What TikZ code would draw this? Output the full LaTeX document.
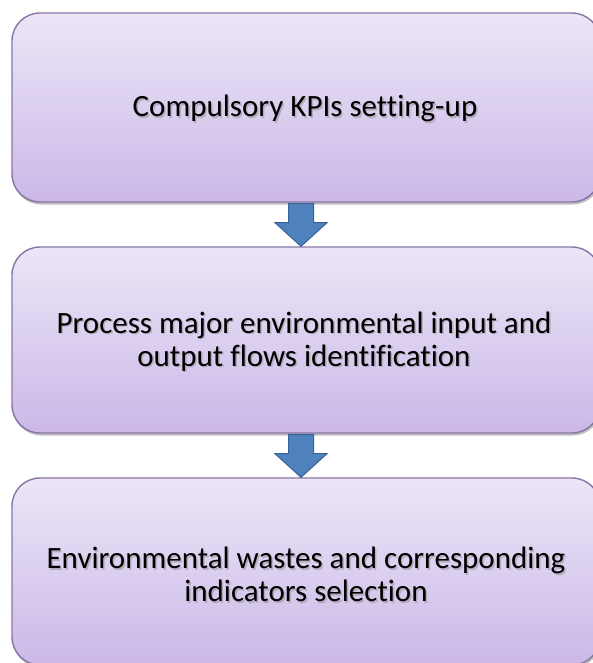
\documentclass[tikz,border=0pt]{standalone}
\usepackage{fontspec}
\setmainfont[Ligatures=NoCommon]{Carlito}
\usetikzlibrary{calc,shadows}
\definecolor{boxtop}{RGB}{236,230,247}
\definecolor{boxbot}{RGB}{203,184,232}
\definecolor{boxline}{RGB}{135,118,165}
\definecolor{arrfill}{RGB}{79,129,189}
\definecolor{arrline}{RGB}{56,98,150}
\tikzset{
  stepbox/.style={rectangle, rounded corners=28pt, draw=boxline, line width=1.4pt,
    top color=boxtop, bottom color=boxbot, minimum width=588pt,
    drop shadow={fill=black, opacity=0.25, shadow xshift=1pt, shadow yshift=-2.5pt}},
  lbl/.style={align=center, font=\fontsize{31}{33}\selectfont, text=black, inner sep=0pt},
  lblshadow/.style={lbl, text=black!45, opacity=0.5},
  bigarrow/.style={fill=arrfill, draw=arrline, line width=1pt, line join=miter}
}
\begin{document}
\begin{tikzpicture}[x=1pt,y=-1pt]
\useasboundingbox (0,0) rectangle (593,663);
\node[stepbox, minimum height=189pt] (b1) at (306,107.5) {};
\node[stepbox, minimum height=186pt] (b2) at (306,340) {};
\node[stepbox, minimum height=187pt] (b3) at (306,571.5) {};
% labels with soft shadow
\node[lblshadow] (t1s) at (306.5,110) {Compulsory KPIs setting-up};
\node[lbl] (t1) at (305,108.5) {Compulsory KPIs setting-up};
\node[lblshadow] (t2s) at (305.5,343) {Process major environmental input and\\output flows identification};
\node[lbl] (t2) at (304,341.5) {Process major environmental input and\\output flows identification};
\node[lblshadow] (t3s) at (307.5,576) {Environmental wastes and corresponding\\indicators selection};
\node[lbl] (t3) at (306,574.5) {Environmental wastes and corresponding\\indicators selection};
% arrows
\coordinate (a1s) at ($(b1.south)+(-5,0)$);
\coordinate (a1t) at ($(b2.north)+(-5,0)$);
\coordinate (a2s) at ($(b2.south)+(-5,0)$);
\coordinate (a2t) at ($(b3.north)+(-5,0)$);
\draw[bigarrow] ($(a1s)+(-12.5,1)$) -- ($(a1s)+(12.5,1)$) -- ($(a1s)+(12.5,20)$) -- ($(a1s)+(26,20)$) -- (a1t) -- ($(a1s)+(-26,20)$) -- ($(a1s)+(-12.5,20)$) -- cycle;
\draw[bigarrow] ($(a2s)+(-12.5,1)$) -- ($(a2s)+(12.5,1)$) -- ($(a2s)+(12.5,20)$) -- ($(a2s)+(26,20)$) -- (a2t) -- ($(a2s)+(-26,20)$) -- ($(a2s)+(-12.5,20)$) -- cycle;
\end{tikzpicture}
\end{document}
